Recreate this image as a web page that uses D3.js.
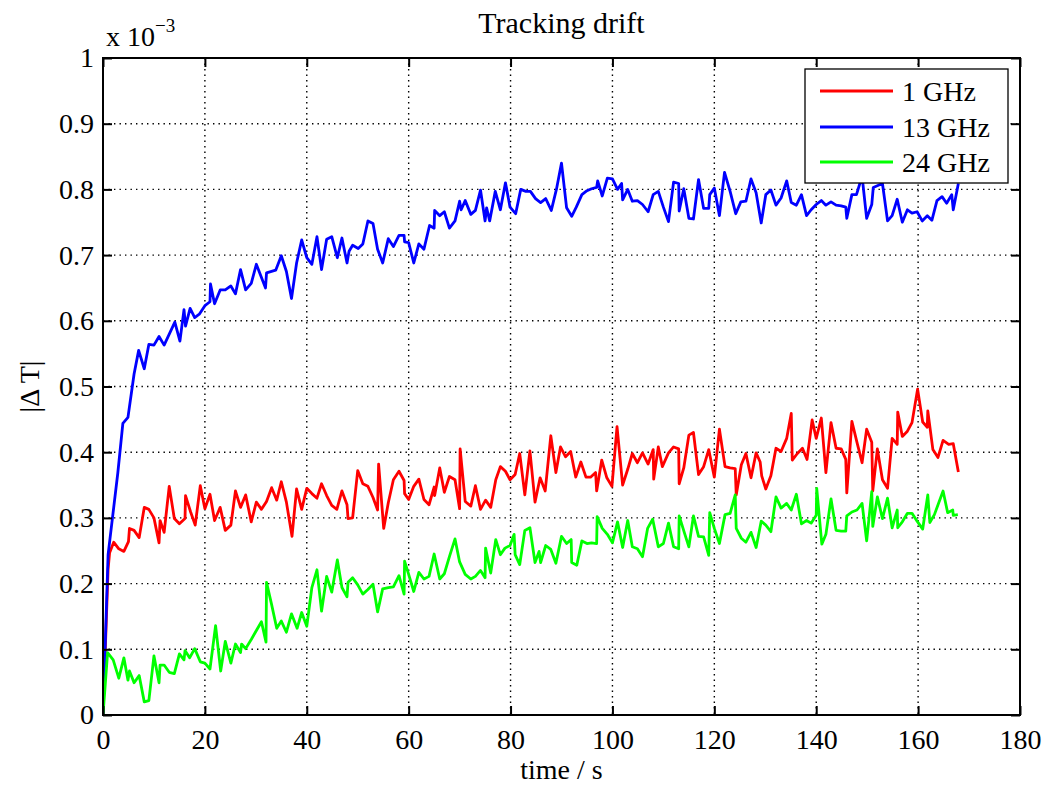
<!DOCTYPE html>
<html>
<head>
<meta charset="utf-8">
<script src="https://cdn.jsdelivr.net/npm/d3@7"></script>
<style>
  html, body { margin: 0; padding: 0; background: #fff; }
  svg { display: block; }
  text { font-family: "Liberation Serif", "Times New Roman", serif; fill: #000; }
</style>
</head>
<body>
<svg id="chart" width="1048" height="785"></svg>
<script>
// ---- data (values in units of 1e-3) ----
const seriesNames = ["1 GHz", "13 GHz", "24 GHz"];
const seriesColors = ["#ff0000", "#0000ff", "#00ff00"];
const xTicks = [0, 20, 40, 60, 80, 100, 120, 140, 160, 180];
const yTicks = [0, 0.1, 0.2, 0.3, 0.4, 0.5, 0.6, 0.7, 0.8, 0.9, 1];

const red1GHz = [[0,0],[1.0,0.222],[1.3,0.247],[2.1,0.263],[3.1,0.253],[4.1,0.249],[5.0,0.264],[5.2,0.284],[6.1,0.281],[7.1,0.270],[8.1,0.316],[9.0,0.313],[10.0,0.300],[11.0,0.262],[11.2,0.296],[12.0,0.278],[13.0,0.348],[14.0,0.299],[15.0,0.291],[16.1,0.299],[16.2,0.334],[17.2,0.309],[18.1,0.289],[19.1,0.349],[20.0,0.314],[21.0,0.336],[21.9,0.296],[23.0,0.316],[24.0,0.281],[25.1,0.289],[26.0,0.341],[27.0,0.316],[28.0,0.335],[29.1,0.294],[30.1,0.324],[31.1,0.313],[32.1,0.325],[33.1,0.346],[34.1,0.327],[35.0,0.355],[36.0,0.324],[37.1,0.272],[38.0,0.344],[39.0,0.313],[40.0,0.345],[41.0,0.337],[42.0,0.330],[42.9,0.352],[43.9,0.334],[44.9,0.319],[45.9,0.313],[46.9,0.341],[47.9,0.320],[48.1,0.299],[49.0,0.300],[50.0,0.372],[51.0,0.352],[52.0,0.348],[53.0,0.331],[53.9,0.312],[54.1,0.382],[55.1,0.284],[56.0,0.323],[57.0,0.358],[58.1,0.371],[59.1,0.357],[59.2,0.337],[60.0,0.328],[61.0,0.348],[62.0,0.359],[63.0,0.328],[64.0,0.320],[65.0,0.347],[65.1,0.334],[66.1,0.376],[67.0,0.339],[68.0,0.363],[69.1,0.358],[70.0,0.314],[70.1,0.405],[71.1,0.325],[72.2,0.318],[73.1,0.349],[74.1,0.313],[75.1,0.327],[76.1,0.316],[77.1,0.358],[78.0,0.378],[79.0,0.371],[79.9,0.358],[80.9,0.366],[81.8,0.398],[82.8,0.335],[83.8,0.402],[84.8,0.324],[85.8,0.361],[86.8,0.341],[87.9,0.425],[88.9,0.369],[89.8,0.408],[90.8,0.393],[91.8,0.401],[92.8,0.362],[93.8,0.385],[94.8,0.362],[95.7,0.362],[96.7,0.369],[96.9,0.341],[97.9,0.388],[98.9,0.361],[99.9,0.348],[100.9,0.439],[102.0,0.350],[103.0,0.374],[103.9,0.398],[104.9,0.384],[105.9,0.399],[107.0,0.382],[108.0,0.404],[108.1,0.359],[109.0,0.408],[109.8,0.378],[111.0,0.399],[112.0,0.408],[113.0,0.405],[113.1,0.352],[114.0,0.376],[115.0,0.426],[115.9,0.430],[116.9,0.366],[117.9,0.378],[118.9,0.404],[120.0,0.362],[121.0,0.435],[122.1,0.378],[123.1,0.376],[124.1,0.375],[124.3,0.335],[125.3,0.381],[126.2,0.398],[127.2,0.361],[128.2,0.399],[129.0,0.385],[129.3,0.364],[130.1,0.344],[131.1,0.364],[132.1,0.406],[133.1,0.401],[134.2,0.421],[135.1,0.459],[135.3,0.388],[136.3,0.398],[137.3,0.406],[138.2,0.389],[139.2,0.449],[140.0,0.421],[141.0,0.452],[141.9,0.369],[142.9,0.445],[143.9,0.406],[144.9,0.405],[145.8,0.389],[146.0,0.338],[147.0,0.447],[148.0,0.415],[149.0,0.384],[149.9,0.435],[150.9,0.415],[151.1,0.341],[152.0,0.405],[153.0,0.358],[154.0,0.345],[154.9,0.421],[155.9,0.412],[156.0,0.461],[156.9,0.424],[157.9,0.432],[158.8,0.445],[159.9,0.496],[160.9,0.446],[161.8,0.438],[161.9,0.463],[162.9,0.404],[163.9,0.392],[164.9,0.418],[166.0,0.412],[166.9,0.413],[167.9,0.370]];

const blue13GHz = [[0,0],[1.0,0.244],[2.9,0.368],[3.9,0.444],[4.9,0.453],[6.1,0.519],[7.0,0.555],[8.1,0.527],[9.0,0.564],[10.0,0.563],[11.0,0.576],[12.0,0.563],[14.1,0.598],[15.1,0.569],[15.9,0.617],[16.2,0.592],[17.1,0.619],[18.0,0.605],[18.9,0.610],[20.0,0.623],[21.0,0.629],[21.1,0.656],[21.9,0.626],[23.0,0.647],[24.0,0.647],[25.1,0.653],[26.0,0.641],[27.0,0.678],[28.0,0.647],[29.1,0.657],[30.1,0.686],[31.9,0.650],[32.1,0.673],[33.9,0.677],[35.0,0.699],[36.0,0.675],[37.0,0.634],[38.0,0.688],[39.0,0.723],[40.0,0.696],[41.0,0.686],[42.0,0.728],[42.9,0.678],[43.9,0.724],[44.9,0.728],[46.0,0.696],[46.9,0.726],[47.9,0.688],[48.3,0.706],[49.0,0.715],[50.1,0.710],[51.0,0.717],[52.0,0.752],[53.0,0.748],[53.9,0.709],[54.9,0.688],[56.0,0.725],[57.0,0.713],[58.1,0.730],[59.1,0.730],[59.2,0.720],[60.0,0.719],[61.0,0.688],[62.0,0.717],[63.0,0.709],[64.1,0.745],[65.0,0.741],[65.1,0.768],[66.1,0.760],[67.0,0.766],[68.0,0.741],[69.1,0.752],[70.0,0.782],[70.3,0.769],[71.1,0.783],[72.2,0.762],[73.1,0.768],[74.1,0.799],[75.0,0.752],[75.3,0.772],[75.9,0.752],[77.0,0.797],[78.0,0.769],[79.0,0.810],[79.9,0.773],[81.0,0.763],[82.0,0.800],[83.0,0.797],[83.9,0.797],[84.9,0.786],[85.9,0.780],[86.9,0.786],[88.0,0.768],[89.0,0.800],[90.0,0.840],[91.0,0.772],[92.0,0.759],[92.9,0.773],[94.0,0.792],[95.0,0.798],[95.9,0.801],[96.9,0.803],[97.1,0.813],[98.0,0.790],[99.0,0.817],[100.0,0.816],[101.0,0.800],[101.8,0.809],[102.0,0.784],[103.0,0.800],[103.9,0.782],[104.9,0.783],[105.9,0.777],[107.0,0.766],[108.0,0.792],[109.0,0.797],[110.0,0.773],[111.0,0.751],[112.0,0.811],[113.0,0.809],[113.1,0.767],[114.0,0.801],[115.0,0.756],[115.9,0.755],[116.9,0.815],[117.9,0.771],[118.9,0.771],[119.1,0.792],[120.0,0.802],[121.0,0.760],[122.0,0.826],[123.1,0.797],[124.2,0.763],[125.2,0.781],[126.2,0.782],[127.2,0.816],[128.2,0.795],[129.2,0.749],[130.1,0.792],[131.1,0.799],[132.1,0.776],[133.1,0.787],[134.2,0.813],[135.1,0.780],[136.1,0.776],[137.1,0.792],[138.1,0.760],[139.0,0.769],[140.0,0.777],[141.0,0.783],[141.9,0.776],[142.9,0.781],[143.9,0.776],[144.9,0.775],[145.8,0.773],[146.0,0.756],[147.0,0.792],[147.9,0.792],[149.0,0.820],[149.9,0.756],[150.9,0.777],[151.2,0.803],[153.0,0.809],[154.0,0.752],[154.9,0.760],[155.9,0.785],[156.9,0.750],[157.9,0.769],[158.8,0.764],[159.8,0.766],[160.8,0.752],[161.8,0.760],[162.7,0.753],[163.7,0.783],[164.7,0.789],[165.6,0.779],[166.6,0.792],[166.9,0.769],[167.9,0.809]];

const green24GHz = [[0,0],[0.9,0.095],[2.0,0.084],[3.1,0.056],[4.1,0.087],[4.9,0.053],[5.2,0.067],[6.1,0.049],[7.1,0.060],[8.1,0.020],[9.0,0.022],[10.0,0.090],[11.0,0.049],[11.2,0.076],[12.0,0.076],[13.0,0.065],[14.0,0.063],[15.0,0.093],[15.9,0.084],[16.1,0.098],[17.0,0.087],[18.0,0.101],[19.1,0.081],[20.0,0.079],[21.0,0.070],[22.1,0.136],[23.1,0.067],[24.0,0.112],[25.1,0.079],[26.0,0.108],[27.0,0.095],[27.2,0.108],[28.0,0.101],[29.1,0.115],[31.1,0.142],[32.0,0.111],[32.1,0.202],[33.1,0.168],[34.1,0.132],[35.0,0.143],[36.0,0.126],[37.0,0.154],[38.1,0.132],[39.0,0.156],[40.0,0.135],[41.0,0.194],[42.0,0.221],[42.9,0.158],[43.9,0.211],[44.9,0.187],[46.0,0.236],[46.9,0.194],[47.9,0.180],[48.1,0.202],[49.0,0.209],[50.0,0.198],[51.0,0.184],[52.0,0.191],[53.0,0.199],[53.9,0.157],[54.9,0.192],[56.0,0.194],[57.0,0.195],[58.1,0.212],[59.1,0.184],[59.2,0.234],[60.0,0.214],[61.0,0.188],[62.0,0.217],[63.0,0.207],[64.0,0.211],[65.0,0.245],[66.1,0.207],[67.0,0.215],[68.0,0.241],[69.1,0.268],[70.0,0.233],[71.1,0.214],[72.2,0.207],[73.1,0.211],[74.1,0.220],[75.0,0.209],[75.1,0.254],[76.1,0.216],[77.1,0.267],[78.0,0.244],[78.9,0.254],[79.9,0.258],[80.7,0.275],[80.9,0.244],[81.8,0.229],[82.8,0.281],[83.8,0.285],[84.8,0.232],[85.6,0.249],[85.9,0.232],[86.9,0.258],[87.9,0.252],[88.9,0.231],[90.0,0.272],[91.0,0.261],[91.9,0.267],[92.0,0.232],[93.0,0.228],[94.0,0.265],[95.0,0.261],[95.9,0.262],[96.9,0.261],[97.0,0.302],[98.0,0.284],[99.0,0.275],[100.0,0.262],[101.0,0.294],[102.0,0.255],[103.0,0.296],[103.9,0.256],[104.9,0.253],[105.9,0.241],[106.9,0.284],[107.9,0.298],[109.0,0.256],[110.0,0.261],[111.0,0.292],[112.0,0.256],[113.0,0.253],[113.1,0.303],[114.1,0.278],[115.0,0.256],[115.9,0.303],[116.9,0.272],[117.9,0.271],[118.9,0.243],[119.1,0.308],[120.0,0.284],[121.0,0.261],[122.1,0.305],[123.1,0.307],[124.1,0.335],[124.3,0.284],[125.3,0.269],[126.2,0.263],[127.2,0.278],[128.2,0.255],[129.2,0.295],[130.1,0.289],[131.1,0.279],[132.1,0.332],[133.1,0.315],[134.2,0.322],[135.1,0.312],[136.1,0.336],[137.1,0.291],[138.1,0.296],[139.0,0.292],[140.0,0.304],[140.1,0.345],[141.1,0.260],[141.9,0.275],[142.9,0.329],[143.9,0.281],[144.9,0.280],[145.8,0.280],[146.0,0.303],[147.0,0.309],[148.0,0.312],[149.0,0.322],[149.9,0.265],[150.9,0.340],[151.1,0.287],[152.0,0.332],[153.0,0.299],[154.0,0.330],[154.9,0.285],[155.9,0.312],[156.0,0.285],[156.9,0.294],[157.9,0.307],[158.8,0.307],[159.8,0.295],[160.9,0.283],[161.9,0.335],[162.3,0.293],[163.2,0.305],[164.9,0.341],[165.8,0.308],[166.8,0.312],[166.9,0.304],[167.8,0.305]];

const seriesData = [red1GHz, blue13GHz, green24GHz];

// ---- layout ----
const svg = d3.select("#chart");
const L = 103, R = 1020, T = 58, B = 715;
const FS = 28;

const x = d3.scaleLinear().domain([0, 180]).range([L, R]);
const y = d3.scaleLinear().domain([0, 1]).range([B, T]);

svg.append("rect").attr("width", 1048).attr("height", 785).attr("fill", "#fff");

// grid
const grid = svg.append("g").attr("stroke", "#000").attr("stroke-width", 1.4)
  .attr("stroke-dasharray", "1.4,4.1");
grid.selectAll("line.gx").data(xTicks.filter(d => d > 0 && d < 180)).join("line")
  .attr("x1", d => x(d)).attr("x2", d => x(d)).attr("y1", T).attr("y2", B);
grid.selectAll("line.gy").data(yTicks.filter(d => d > 0 && d < 1)).join("line")
  .attr("y1", d => y(d)).attr("y2", d => y(d)).attr("x1", L).attr("x2", R);

// lines
svg.append("clipPath").attr("id", "clip").append("rect")
  .attr("x", L).attr("y", T).attr("width", R - L).attr("height", B - T);
const line = d3.line().x(d => x(d[0])).y(d => y(d[1]));
svg.append("g").attr("clip-path", "url(#clip)")
  .selectAll("path").data(seriesData).join("path")
  .attr("d", line).attr("fill", "none")
  .attr("stroke", (d, i) => seriesColors[i])
  .attr("stroke-width", 2.8).attr("stroke-linejoin", "round");

// axes (MATLAB style: inward ticks on all sides)
const tickLen = 9;
const xAxisB = d3.axisBottom(x).tickValues(xTicks).tickSizeInner(-tickLen).tickSizeOuter(0).tickPadding(14).tickFormat(d3.format("d"));
const xAxisT = d3.axisTop(x).tickValues(xTicks).tickSizeInner(-tickLen).tickSizeOuter(0).tickFormat("");
const yAxisL = d3.axisLeft(y).tickValues(yTicks).tickSizeInner(-tickLen).tickSizeOuter(0).tickPadding(9).tickFormat(d => d === 0 ? "0" : d === 1 ? "1" : d3.format(".1f")(d));
const yAxisR = d3.axisRight(y).tickValues(yTicks).tickSizeInner(-tickLen).tickSizeOuter(0).tickFormat("");

function style(g) {
  g.select(".domain").remove();
  g.selectAll(".tick line").attr("stroke", "#000").attr("stroke-width", 2);
  g.selectAll(".tick text").attr("font-size", FS).attr("font-family", "Liberation Serif");
}
svg.append("g").attr("transform", `translate(0,${B})`).call(xAxisB).call(style);
svg.append("g").attr("transform", `translate(0,${T})`).call(xAxisT).call(style);
svg.append("g").attr("transform", `translate(${L},0)`).call(yAxisL).call(style);
svg.append("g").attr("transform", `translate(${R},0)`).call(yAxisR).call(style);

// box
svg.append("rect").attr("x", L).attr("y", T).attr("width", R - L).attr("height", B - T)
  .attr("fill", "none").attr("stroke", "#000").attr("stroke-width", 2);

// titles
svg.append("text").attr("x", (L + R) / 2).attr("y", 33).attr("text-anchor", "middle")
  .attr("font-size", 30).text("Tracking drift");
svg.append("text").attr("x", (L + R) / 2).attr("y", 779).attr("text-anchor", "middle")
  .attr("font-size", FS).text("time / s");
svg.append("text").attr("transform", `translate(39,${(T + B) / 2}) rotate(-90)`)
  .attr("text-anchor", "middle").attr("font-size", FS).text("|\u0394\u2009T|");
const mult = svg.append("text").attr("x", 106).attr("y", 46).attr("font-size", FS);
mult.append("tspan").text("x 10");
mult.append("tspan").attr("dy", -14).attr("font-size", 19).text("\u22123");

// legend
const lg = svg.append("g");
lg.append("rect").attr("x", 805).attr("y", 69).attr("width", 203).attr("height", 114)
  .attr("fill", "#fff").attr("stroke", "#000").attr("stroke-width", 1.3);
const rowY = [91, 127, 162];
seriesNames.forEach((name, i) => {
  lg.append("line").attr("x1", 820).attr("x2", 893).attr("y1", rowY[i]).attr("y2", rowY[i])
    .attr("stroke", seriesColors[i]).attr("stroke-width", 2.8);
  lg.append("text").attr("x", 902).attr("y", rowY[i]).attr("dy", "0.35em")
    .attr("font-size", FS).text(name);
});
</script>
</body>
</html>
